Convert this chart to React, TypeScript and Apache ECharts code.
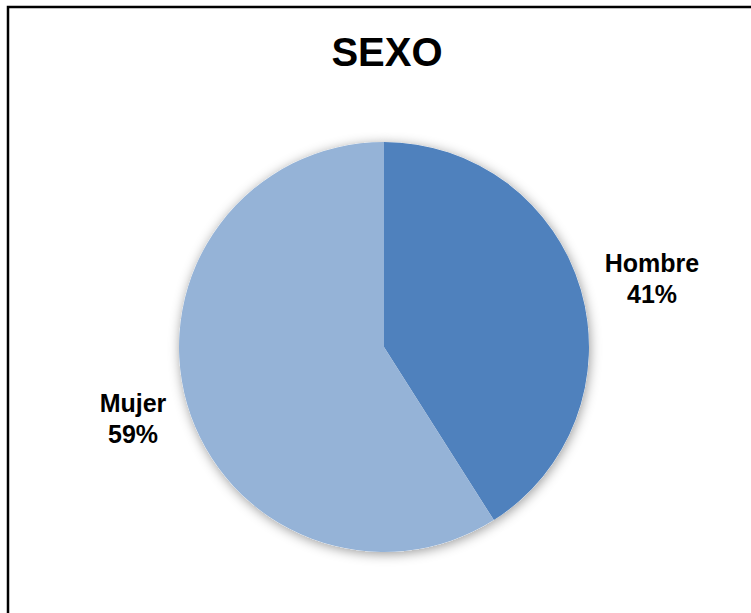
import React, { useEffect, useRef } from "react";
import * as echarts from "echarts";

const TITLE = "SEXO";
const categories = ["Hombre", "Mujer"];
const values = [41, 59];
const colors = ["#4F81BD", "#95B3D7"];
const labelCenters: [number, number][] = [
  [652, 278],
  [133, 418],
];

const FONT = 'Arial, "Liberation Sans", sans-serif';

export default function App() {
  const ref = useRef<HTMLDivElement>(null);
  useEffect(() => {
    if (!ref.current) return;
    const chart = echarts.init(ref.current, undefined, { renderer: "svg" });
    const data = categories.map((name, i) => ({
      name,
      value: values[i],
      itemStyle: { color: colors[i] },
    }));
    chart.setOption({
      animation: false,
      backgroundColor: "#ffffff",
      title: {
        text: TITLE,
        left: 382,
        top: 27,
        textAlign: "center",
        textStyle: { fontFamily: FONT, fontWeight: "bold", fontSize: 40, color: "#000" },
      },
      graphic: [
        {
          type: "rect",
          shape: { x: 8, y: 7, width: 900, height: 800 },
          style: { fill: "none", stroke: "#000", lineWidth: 2.5 },
          silent: true,
        },
      ],
      series: [
        {
          type: "pie",
          silent: true,
          center: [384, 347],
          radius: [0, 205],
          startAngle: 90,
          clockwise: true,
          label: { show: false },
          labelLine: { show: false },
          itemStyle: {
            color: "#ffffff",
            shadowBlur: 12,
            shadowColor: "rgba(0,0,0,0.4)",
            shadowOffsetX: 1,
            shadowOffsetY: 2,
          },
          data: categories.map((name, i) => ({ name, value: values[i] })),
          z: 1,
        },
        {
          type: "pie",
          center: [384, 347],
          radius: [0, 205],
          startAngle: 90,
          clockwise: true,
          itemStyle: { borderWidth: 0 },
          labelLine: { show: false },
          label: {
            show: true,
            position: "outside",
            formatter: (p: any) => `${p.name}\n${Math.round(p.percent)}%`,
            fontFamily: FONT,
            fontWeight: "bold",
            fontSize: 25,
            lineHeight: 31,
            color: "#000",
            align: "center",
          },
          labelLayout: (params: any) => {
            const c = labelCenters[params.dataIndex];
            return { x: c[0], y: c[1], align: "center", verticalAlign: "middle" };
          },
          data,
          z: 2,
        },
      ],
    });
    return () => chart.dispose();
  }, []);
  return (
    <div
      ref={ref}
      style={{ position: "fixed", left: 0, top: 0, width: 751, height: 613 }}
    />
  );
}
